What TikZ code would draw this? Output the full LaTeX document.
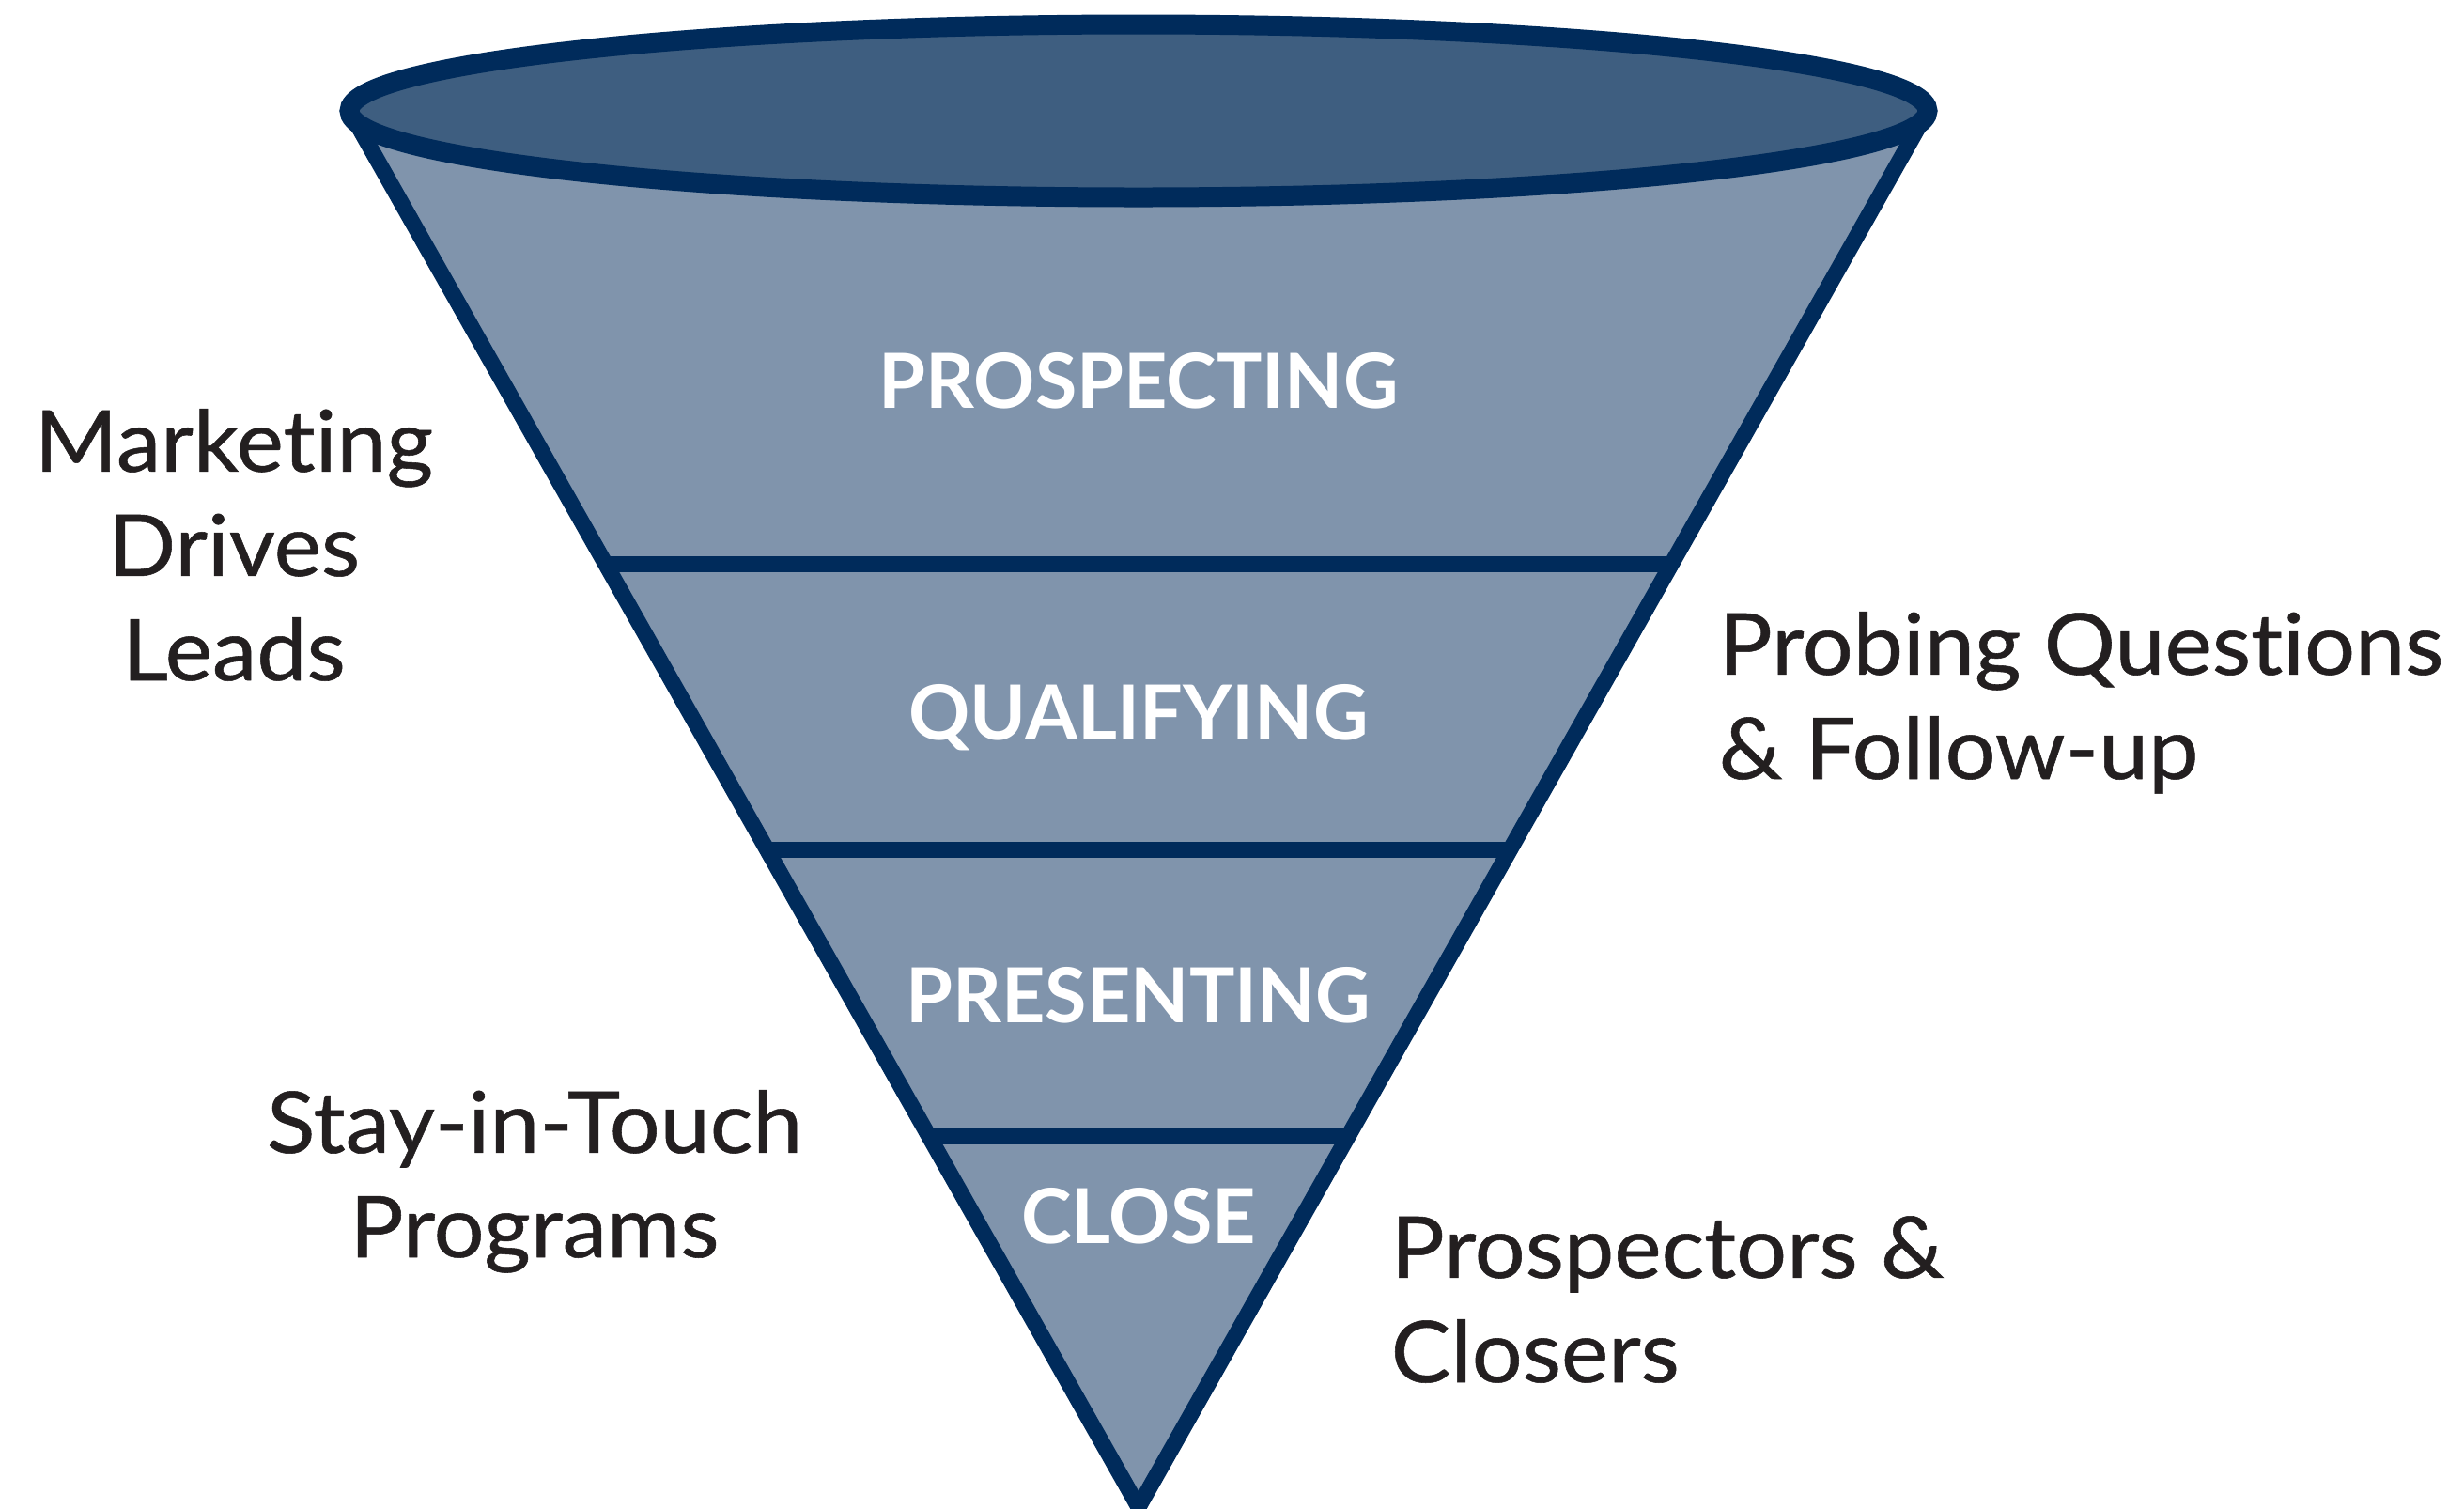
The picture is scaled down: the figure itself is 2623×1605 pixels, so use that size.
\documentclass[tikz,border=0pt]{standalone}
\usepackage{fontspec}
\setmainfont{Lato}[Ligatures=NoCommon]
\newfontfamily\notefont{Lato}[Ligatures=NoCommon,FakeStretch=1.05,FakeBold=0.6]
\usetikzlibrary{calc}
\definecolor{funnelline}{RGB}{0,43,91}
\definecolor{funneltop}{RGB}{62,94,128}
\definecolor{funnelbody}{RGB}{128,148,172}
\definecolor{notetext}{RGB}{35,31,32}
\begin{document}
\begin{tikzpicture}[x=0.1mm,y=-0.1mm,
    edge/.style={draw=funnelline,line width=1.7mm,line join=miter},
    stage/.style={text=white,font=\fontsize{23}{28}\selectfont\bfseries,anchor=base,inner sep=0pt},
    note/.style={text=notetext,font=\notefont\fontsize{25.8}{31.6}\selectfont,inner sep=0pt}]
  \useasboundingbox (0,0) rectangle (2623,1605);
  \coordinate (lt) at (372,118);
  \coordinate (rt) at (2052,118);
  \coordinate (tip) at (1212,1604);
  \fill[funnelbody] (lt) -- (rt) -- (tip) -- cycle;
  % stage boundaries
  \foreach \pos in {0.3244,0.5293,0.7345}
    \draw[edge] ($(lt)!\pos!(tip)$) -- ($(rt)!\pos!(tip)$);
  \draw[edge] (lt) -- (tip) -- (rt);
  \draw[funnelline,line width=2.1mm,fill=funneltop] (1212,118) ellipse [x radius=84mm,y radius=9.2mm];
  \node[stage] (prospecting) at (1212,434) {PROSPECTING};
  \node[stage] (qualifying) at (1212,787) {QUALIFYING};
  \node[stage] (presenting) at (1212,1088) {PRESENTING};
  \node[stage] (close) at (1212,1323) {CLOSE};
  % side notes (anchored on the last line)
  \node[note,align=center,anchor=base] (marketing) at (249,724) {Marketing\\Drives\\Leads};
  \node[note,align=left,anchor=base west] (probing) at (1829,829) {Probing Questions\\\& Follow-up};
  \node[note,align=center,anchor=base] (touch) at (569,1338) {Stay-in-Touch\\Programs};
  \node[note,align=left,anchor=base west] (closers) at (1480,1471) {Prospectors \&\\Closers};
\end{tikzpicture}
\end{document}
